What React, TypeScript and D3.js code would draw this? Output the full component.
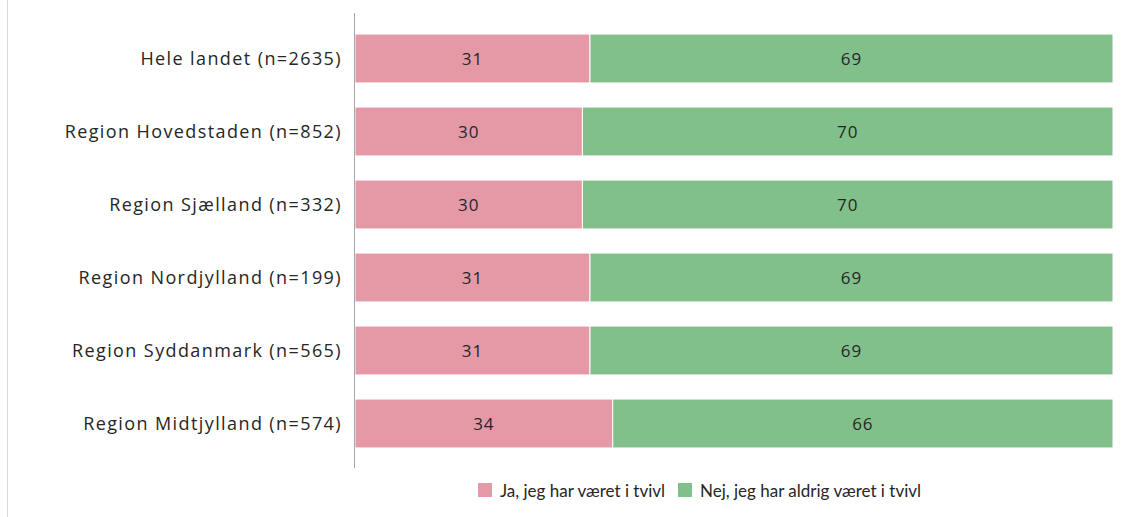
import { useEffect, useRef } from 'react';
import * as d3 from 'd3';

const categories = [
    'Hele landet (n=2635)',
    'Region Hovedstaden (n=852)',
    'Region Sjælland (n=332)',
    'Region Nordjylland (n=199)',
    'Region Syddanmark (n=565)',
    'Region Midtjylland (n=574)',
];
const jaValues = [31, 30, 30, 31, 31, 34];
const nejValues = [69, 70, 70, 69, 69, 66];
const seriesNames = ['Ja, jeg har været i tvivl', 'Nej, jeg har aldrig været i tvivl'];
const seriesColors = ['#e599a6', '#81c08a'];

function App() {
    const chartRef = useRef<SVGSVGElement>(null);

    useEffect(() => {
        const svg = d3.select(chartRef.current);
        svg.selectAll('*').remove();

        const font = 'Lato, "Open Sans", sans-serif';
        const labelFont = '"Open Sans", Lato, sans-serif';
        const left = 355;
        const right = 1113;

        // left border of the chart area
        svg.append('line')
            .attr('x1', 7.5).attr('x2', 7.5)
            .attr('y1', 0).attr('y2', 517)
            .attr('stroke', '#d9d9d9');

        const x = d3.scaleLinear().domain([0, 100]).range([left, right]);
        const y = d3.scaleBand().domain(categories).range([22, 460]).paddingInner(0.33).paddingOuter(0.165);

        const rows = categories.map((c, i) => ({ name: c, values: [jaValues[i], nejValues[i]] }));
        const stack = d3.stack<any>().keys(['0', '1']).value((d: any, k) => d.values[+k]);
        const stacked = stack(rows);

        stacked.forEach((layer, si) => {
            const g = svg.append('g');
            g.selectAll('rect')
                .data(layer)
                .enter()
                .append('rect')
                .attr('x', (d: any) => x(d[0]))
                .attr('y', (d: any) => y(d.data.name) as number)
                .attr('width', (d: any) => x(d[1]) - x(d[0]))
                .attr('height', y.bandwidth())
                .attr('fill', seriesColors[si])
                .attr('stroke', '#fff')
                .attr('stroke-width', 1);

            g.selectAll('text')
                .data(layer)
                .enter()
                .append('text')
                .attr('x', (d: any) => (x(d[0]) + x(d[1])) / 2)
                .attr('y', (d: any) => (y(d.data.name) as number) + y.bandwidth() / 2)
                .attr('dy', '0.36em')
                .attr('text-anchor', 'middle')
                .attr('font-family', labelFont)
                .attr('font-size', 17)
                .attr('letter-spacing', 1)
                .attr('fill', '#262626')
                .text((d: any) => d[1] - d[0]);
        });

        // category axis
        svg.append('line')
            .attr('x1', left - 0.5).attr('x2', left - 0.5)
            .attr('y1', 13).attr('y2', 468)
            .attr('stroke', '#a6a6a6');

        svg.append('g')
            .selectAll('text')
            .data(categories)
            .enter()
            .append('text')
            .attr('x', 342)
            .attr('y', (d) => (y(d) as number) + y.bandwidth() / 2)
            .attr('dy', '0.36em')
            .attr('text-anchor', 'end')
            .attr('font-family', labelFont)
            .attr('font-size', 18)
            .attr('letter-spacing', 1.4)
            .attr('fill', '#262626')
            .text((d) => d);

        // legend
        const legendX = [478, 678];
        const legend = svg.append('g');
        seriesNames.forEach((name, i) => {
            legend.append('rect')
                .attr('x', legendX[i]).attr('y', 483)
                .attr('width', 14).attr('height', 14)
                .attr('fill', seriesColors[i]);
            legend.append('text')
                .attr('x', legendX[i] + 22)
                .attr('y', 491)
                .attr('dy', '0.35em')
                .attr('font-family', font)
                .attr('font-size', 17)
                .attr('fill', '#262626')
                .text(name);
        });
    }, []);

    return (
        <svg
            ref={chartRef}
            width={1128}
            height={517}
            style={{ position: 'absolute', left: 0, top: 0, background: '#fff' }}
        ></svg>
    );
}

export default App;
